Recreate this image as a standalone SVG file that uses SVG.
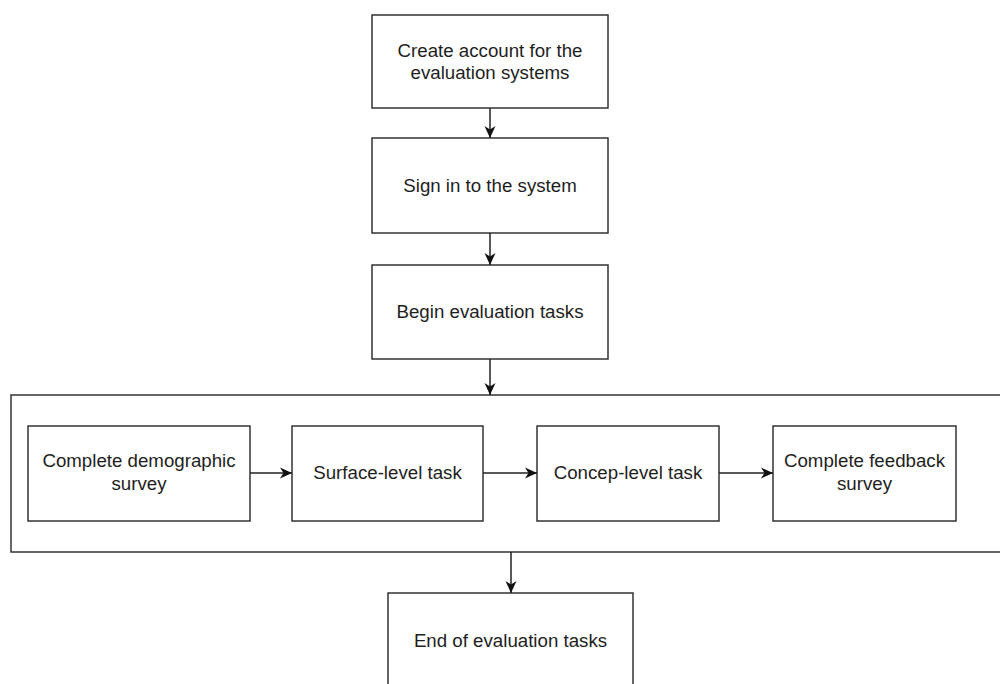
<svg xmlns="http://www.w3.org/2000/svg" width="1000" height="684" viewBox="0 0 1000 684">
  <style>
    .box { fill: #ffffff; stroke: #333333; stroke-width: 1.5; }
    .lbl { font-family: "Liberation Sans", Arial, sans-serif; font-size: 18.7px; fill: #1e1e1e; text-anchor: middle; }
    .edge { fill: none; stroke: #222222; stroke-width: 1.5; }
  </style>
  <defs>
    <marker id="arrow" markerUnits="userSpaceOnUse" markerWidth="14" markerHeight="14" viewBox="0 0 14 14" refX="13" refY="7" orient="auto">
      <path d="M1,1.5 L13,7 L1,12.5 L4.5,7 Z" fill="#111111"/>
    </marker>
  </defs>
  <rect width="1000" height="684" fill="#ffffff"/>

  <!-- container for the task sequence -->
  <g id="task-group">
    <rect class="box" x="11" y="395" width="1000" height="157"/>
  </g>

  <g id="create-account">
    <rect class="box" x="372" y="15" width="236" height="93"/>
    <text class="lbl" x="490" y="57">Create account for the</text>
    <text class="lbl" x="490" y="79">evaluation systems</text>
  </g>

  <g id="sign-in">
    <rect class="box" x="372" y="138" width="236" height="95"/>
    <text class="lbl" x="490" y="192">Sign in to the system</text>
  </g>

  <g id="begin-tasks">
    <rect class="box" x="372" y="265" width="236" height="94"/>
    <text class="lbl" x="490" y="318">Begin evaluation tasks</text>
  </g>

  <g id="demographic-survey">
    <rect class="box" x="28" y="426" width="222" height="95"/>
    <text class="lbl" x="139" y="467">Complete demographic</text>
    <text class="lbl" x="139" y="490">survey</text>
  </g>

  <g id="surface-task">
    <rect class="box" x="292" y="426" width="191" height="95"/>
    <text class="lbl" x="387.5" y="479">Surface-level task</text>
  </g>

  <g id="concept-task">
    <rect class="box" x="537" y="426" width="182" height="95"/>
    <text class="lbl" x="628" y="479">Concep-level task</text>
  </g>

  <g id="feedback-survey">
    <rect class="box" x="773" y="426" width="183" height="95"/>
    <text class="lbl" x="864.5" y="467">Complete feedback</text>
    <text class="lbl" x="864.5" y="490">survey</text>
  </g>

  <g id="end-tasks">
    <rect class="box" x="388" y="593" width="245" height="110"/>
    <text class="lbl" x="510.5" y="647">End of evaluation tasks</text>
  </g>

  <g id="connectors">
    <line class="edge" x1="490" y1="108" x2="490" y2="138" marker-end="url(#arrow)"/>
    <line class="edge" x1="490" y1="233" x2="490" y2="265" marker-end="url(#arrow)"/>
    <line class="edge" x1="490" y1="359" x2="490" y2="395" marker-end="url(#arrow)"/>
    <line class="edge" x1="250" y1="473" x2="292" y2="473" marker-end="url(#arrow)"/>
    <line class="edge" x1="483" y1="473" x2="537" y2="473" marker-end="url(#arrow)"/>
    <line class="edge" x1="719" y1="473" x2="773" y2="473" marker-end="url(#arrow)"/>
    <line class="edge" x1="511" y1="552" x2="511" y2="593" marker-end="url(#arrow)"/>
  </g>
</svg>
